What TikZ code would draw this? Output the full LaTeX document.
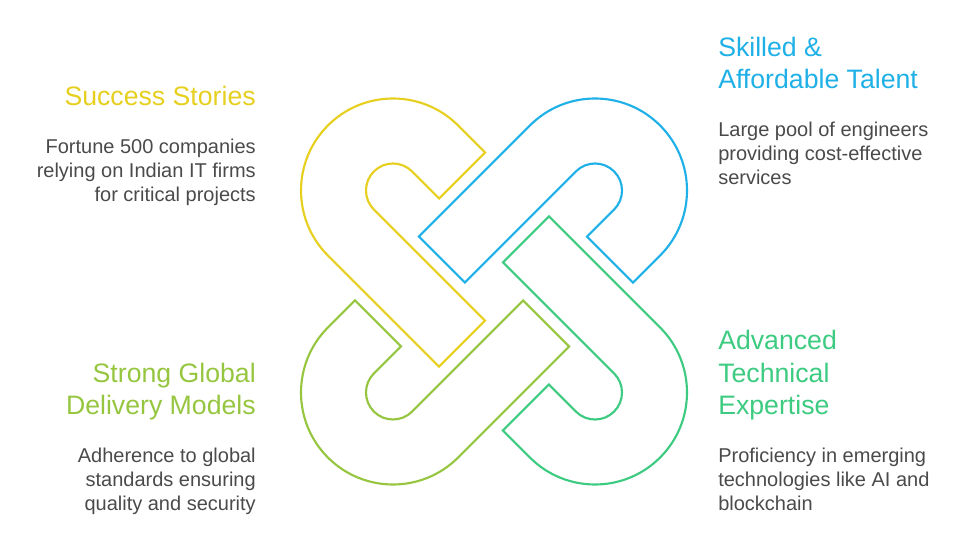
\documentclass[tikz,border=0pt]{standalone}
\usepackage{fontspec}
\setmainfont{Liberation Sans}
\usetikzlibrary{positioning}
\definecolor{linkyellow}{HTML}{E6CF1E}
\definecolor{linkblue}{HTML}{1EB0E6}
\definecolor{linkgreen}{HTML}{3CCB80}
\definecolor{linkolive}{HTML}{96C640}
\definecolor{bodygray}{HTML}{4A4A4A}
\tikzstyle{chainlink}=[line width=1.6pt]
\tikzstyle{title}=[inner sep=0pt, font=\fontsize{20}{24.5}\selectfont]
\tikzstyle{body}=[inner sep=0pt, text=bodygray, font=\fontsize{15}{18}\selectfont]

\begin{document}
\begin{tikzpicture}[x=0.75pt,y=0.75pt]
    \useasboundingbox (0,0) rectangle (975,536);
    % four hooked links, turned by quarter turns
    \foreach \ang/\col in {0/linkyellow,-90/linkblue,-180/linkgreen,-270/linkolive}
      \draw[chainlink,draw=\col,shift={(494,244.5)},rotate=\ang,shift={(-101,101)}]
        (45:27) -- ++(-45:38.2) -- ++(45:65) -- (45:92)
        arc[start angle=45,end angle=225,radius=92]
        -- ++(-45:157) -- ++(45:65) -- (225:27)
        arc[start angle=225,end angle=45,radius=27] -- cycle;
    \node (success) [title,text=linkyellow,anchor=base east,align=right] at (256,430.3) {Success Stories};
    \node (successtxt) [body,anchor=base east,align=right] at ([yshift=-72pt]success.base east) {Fortune 500 companies\\relying on Indian IT firms\\for critical projects};
    \node (talent) [title,text=linkblue,anchor=base west,align=left] at (718,447) {Skilled \&\\Affordable Talent};
    \node (talenttxt) [body,anchor=base west,align=left] at ([yshift=-71.5pt]talent.base west) {Large pool of engineers\\providing cost-effective\\services};
    \node (expert) [title,text=linkgreen,anchor=base west,align=left] at (718,121.3) {Advanced\\Technical\\Expertise};
    \node (experttxt) [body,anchor=base west,align=left] at ([yshift=-71.5pt]expert.base west) {Proficiency in emerging\\technologies like AI and\\blockchain};
    \node (delivery) [title,text=linkolive,anchor=base east,align=right] at (256,121.3) {Strong Global\\Delivery Models};
    \node (deliverytxt) [body,anchor=base east,align=right] at ([yshift=-71.5pt]delivery.base east) {Adherence to global\\standards ensuring\\quality and security};
\end{tikzpicture}
\end{document}
